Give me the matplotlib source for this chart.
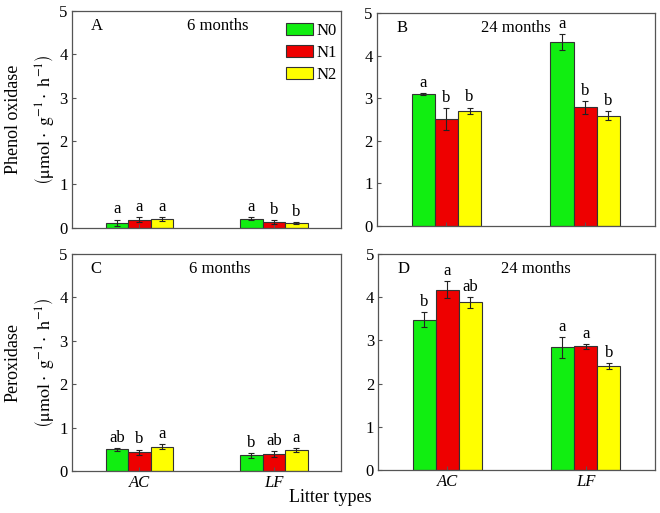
import numpy as np
import matplotlib
matplotlib.use('Agg')
import matplotlib.pyplot as plt
from matplotlib.patches import Patch

plt.rcParams['font.family'] = ['Liberation Serif', 'DejaVu Serif']
plt.rcParams['mathtext.fontset'] = 'stix'

litter = ['AC', 'LF']
treatments = ['N0', 'N1', 'N2']
colors = ['#11ee11', '#ee0000', '#ffff00']

# Phenol oxidase, 6 months (A) and 24 months (B)
po_6_mean = [[0.12, 0.19, 0.20], [0.21, 0.13, 0.11]]
po_6_err = [[0.07, 0.06, 0.04], [0.03, 0.05, 0.03]]
po_6_sig = [['a', 'a', 'a'], ['a', 'b', 'b']]
po_24_mean = [[3.10, 2.51, 2.70], [4.32, 2.79, 2.59]]
po_24_err = [[0.03, 0.25, 0.08], [0.19, 0.15, 0.11]]
po_24_sig = [['a', 'b', 'b'], ['a', 'b', 'b']]

# Peroxidase, 6 months (C) and 24 months (D)
px_6_mean = [[0.50, 0.43, 0.56], [0.36, 0.38, 0.48]]
px_6_err = [[0.03, 0.06, 0.05], [0.06, 0.07, 0.05]]
px_6_sig = [['ab', 'b', 'a'], ['b', 'ab', 'a']]
px_24_mean = [[3.48, 4.17, 3.88], [2.84, 2.86, 2.41]]
px_24_err = [[0.18, 0.20, 0.13], [0.24, 0.06, 0.07]]
px_24_sig = [['b', 'a', 'ab'], ['a', 'a', 'b']]

unit = r'$\left(\mathrm{\mu mol}\cdot\ \mathrm{g}^{-1}\cdot\ \mathrm{h}^{-1}\right)$'

fig = plt.figure(figsize=(6.6, 5.13), dpi=100)
axA = fig.add_axes([0.109, 0.556, 0.408, 0.423])
axB = fig.add_axes([0.571, 0.5595, 0.421, 0.415])
axC = fig.add_axes([0.109, 0.082, 0.408, 0.423])
axD = fig.add_axes([0.573, 0.084, 0.419, 0.421])

width = 0.167
x = np.arange(len(litter))


def draw_panel(ax, mean, err, sig, letter, period, period_x, bottom_row):
    mean = np.array(mean)
    err = np.array(err)
    for j in range(len(treatments)):
        pos = x + (j - 1) * width
        ax.bar(pos, mean[:, j], width, color=colors[j], edgecolor='#333333',
               linewidth=0.8, yerr=err[:, j], capsize=2,
               error_kw=dict(elinewidth=0.8, capthick=0.8, ecolor='#222222'))
        for i in range(len(litter)):
            ax.text(pos[i], mean[i, j] + err[i, j] + 0.05, sig[i][j],
                    ha='center', va='bottom', fontsize=12)
    ax.set_xlim(-0.5, 1.5)
    ax.set_ylim(0, 5)
    ax.set_yticks(range(6))
    ax.set_xticks(x)
    if bottom_row:
        ax.set_xticklabels(litter, fontstyle='italic', fontsize=12)
    else:
        ax.set_xticklabels([])
    ax.tick_params(axis='both', direction='in', length=3, labelsize=12, pad=3,
                   color='#555555')
    for s in ax.spines.values():
        s.set_color('#555555')
        s.set_linewidth(0.9)
    ax.text(0.07, 0.93, letter, transform=ax.transAxes, fontsize=12,
            ha='left', va='center')
    ax.text(period_x, 0.93, period, transform=ax.transAxes, fontsize=12,
            ha='center', va='center')


draw_panel(axA, po_6_mean, po_6_err, po_6_sig, 'A', '6 months', 0.54, False)
draw_panel(axB, po_24_mean, po_24_err, po_24_sig, 'B', '24 months', 0.50, False)
draw_panel(axC, px_6_mean, px_6_err, px_6_sig, 'C', '6 months', 0.55, True)
draw_panel(axD, px_24_mean, px_24_err, px_24_sig, 'D', '24 months', 0.57, True)

handles = [Patch(facecolor=c, edgecolor='#333333', linewidth=0.8) for c in colors]
axA.legend(handles, treatments, loc='upper right', frameon=False, fontsize=12,
           handlelength=1.6, handleheight=0.7, handletextpad=0.2,
           labelspacing=0.35, borderaxespad=0.2, bbox_to_anchor=(1.02, 0.99))

fig.text(0.020, 0.767, 'Phenol oxidase', rotation=90, ha='center', va='center', fontsize=13)
fig.text(0.068, 0.767, unit, rotation=90, ha='center', va='center', fontsize=13)
fig.text(0.020, 0.293, 'Peroxidase', rotation=90, ha='center', va='center', fontsize=13)
fig.text(0.068, 0.293, unit, rotation=90, ha='center', va='center', fontsize=13)
fig.text(0.5, 0.03, 'Litter types', ha='center', va='center', fontsize=13)

fig.savefig('out.png', dpi=100)
